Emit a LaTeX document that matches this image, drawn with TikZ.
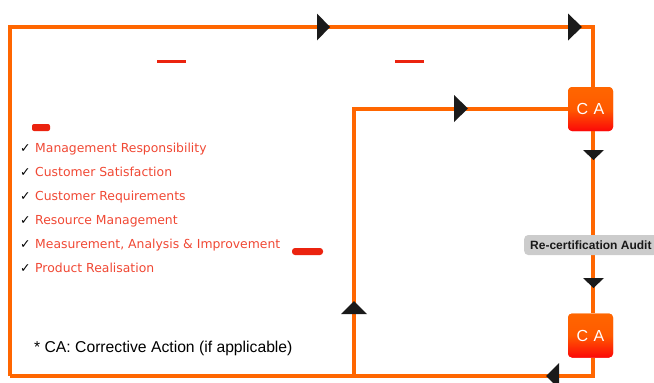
\documentclass[tikz,border=0pt]{standalone}
\usepackage{fontspec}
\setmainfont{Liberation Sans}
\newfontfamily\dejavu{DejaVu Sans}
\usetikzlibrary{calc}
\definecolor{lineor}{RGB}{255,102,0}
\definecolor{listred}{RGB}{240,72,52}
\definecolor{arrowc}{RGB}{26,26,26}
\definecolor{audgray}{RGB}{204,204,204}
\definecolor{barred}{RGB}{235,35,15}
\tikzset{
  flow/.style={draw=lineor,line width=4pt},
  cabox/.style={minimum width=45pt,minimum height=44pt,rounded corners=4pt,inner sep=0pt,
    top color=lineor,bottom color={rgb,255:red,252;green,8;blue,8},middle color={rgb,255:red,255;green,90;blue,0},
    text=white,font=\fontsize{16}{16}\selectfont},
  listitem/.style={anchor=base west,inner sep=0pt,text=listred,font=\dejavu\fontsize{12.4}{14}\selectfont},
  tick/.style={anchor=base west,inner sep=0pt,text=black,font=\dejavu\fontsize{12.5}{14}\selectfont},
  tri/.style={fill=arrowc},
  bar/.style={fill=barred}
}
\begin{document}
\begin{tikzpicture}[x=1pt,y=-1pt]
\useasboundingbox (0,0) rectangle (654,383);
% coordinates
\coordinate (tl) at (10,27);
\coordinate (tr) at (593,27);
\coordinate (bl) at (10,376);
\coordinate (br) at (593,376);
\coordinate (it) at (354,108.5);
\coordinate (ib) at (354,376);
% CA boxes (placed first for anchors)
\node[cabox] (ca1) at (590.5,109) {C\,\,A};
\node[cabox] (ca2) at (590.5,335.5) {C\,\,A};
% connectors
\path[flow] (bl) -- (tl) -- (tr) -- (tr |- ca1.north);
\path[flow] (ib) -- (it) -- (ca1.west |- it);
\path[flow] (tr |- ca1.south) -- (tr |- ca2.north);
\path[flow] (tr |- ca2.south) -- (br) -- (bl);
% redraw boxes on top
\node[cabox] at (ca1) {C\,\,A};
\node[cabox] at (ca2) {C\,\,A};
% arrowheads
\fill[tri] (317,13.5) -- (330,27) -- (317,40.5) -- cycle;
\fill[tri] (568,13.5) -- (582,27) -- (568,40.5) -- cycle;
\fill[tri] (454,95) -- (468,108.5) -- (454,122) -- cycle;
\fill[tri] (583,150) -- (604,150) -- (593.5,160) -- cycle;
\fill[tri] (583,278) -- (604,278) -- (593.5,288) -- cycle;
\fill[tri] (341,314) -- (367,314) -- (354,301) -- cycle;
\fill[tri] (559,363) -- (546,376) -- (559,389) -- cycle;
% audit label
\node[fill=audgray,rounded corners=4pt,minimum height=20pt,inner xsep=6pt,inner ysep=0pt,anchor=west,
  font=\bfseries\fontsize{12}{12}\selectfont,text=black!90] (aud) at (524,245) {Re-certification Audit};
% red fragments
\fill[bar] (157,60) rectangle (186,62.5);
\fill[bar] (395,60) rectangle (424,62.5);
\fill[bar,rounded corners=2pt] (32,124) rectangle (50,131);
\fill[bar,rounded corners=3pt] (292,248) rectangle (323,255);
% list
\foreach \t [count=\i from 0] in {Management Responsibility,Customer Satisfaction,Customer Requirements,Resource Management,{Measurement, Analysis \& Improvement},Product Realisation}{
  \node[tick] (ck\i) at (20,{152+24*\i}) {✓};
  \node[listitem] (li\i) at (35,{152+24*\i}) {\t};
}
% footnote
\node[anchor=base west,inner sep=0pt,font=\fontsize{15.7}{16}\selectfont] (fn) at (34,352) {* CA: Corrective Action (if applicable)};
\end{tikzpicture}
\end{document}
